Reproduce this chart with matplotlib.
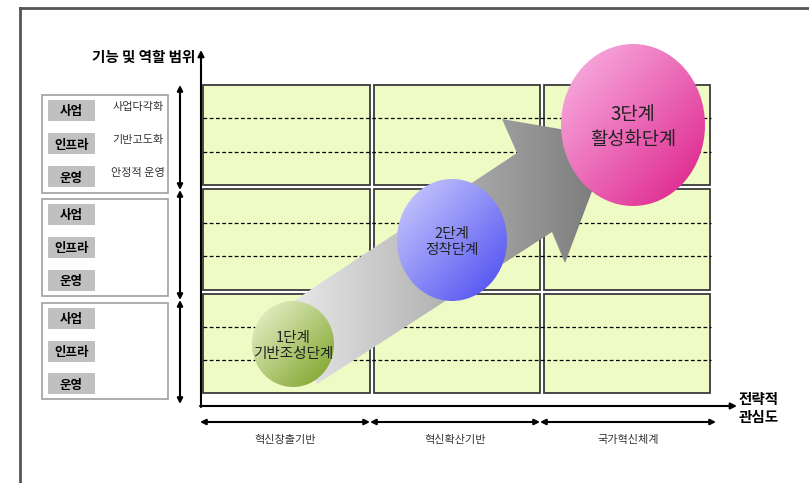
import numpy as np
import matplotlib
matplotlib.use("Agg")
from matplotlib import pyplot as plt
from matplotlib.patches import Rectangle, Ellipse, Polygon
from matplotlib.colors import LinearSegmentedColormap

plt.rcParams['font.family'] = ['Noto Sans CJK KR', 'DejaVu Sans']

# diagram content
y_title = "기능 및 역할 범위"
x_title = "전략적\n관심도"
col_labels = ["혁신창출기반", "혁신확산기반", "국가혁신체계"]
row_tags = ["사업", "인프라", "운영"]
row_notes = ["사업다각화", "기반고도화", "안정적 운영"]
stages = ["1단계\n기반조성단계", "2단계\n정착단계", "3단계\n활성화단계"]

# layout in pixel coordinates (origin top left)
col_x = [(203, 370), (374, 540), (544, 710)]
row_y = [(85, 185), (189, 290), (294, 393)]
box_y = [(95, 193), (199, 296), (303, 399)]
circles = [  # cx, cy, rx, ry, light, dark
    (293, 344, 41, 43, "#eef5d5", "#78a020"),
    (452, 240, 55, 61, "#d0d0ff", "#4848f0"),
    (633, 125, 72, 81, "#fab8e6", "#dc1c88"),
]

fig = plt.figure(figsize=(8.09, 4.83), dpi=100)
ax = fig.add_axes([0, 0, 1, 1])
ax.set_xlim(0, 809)
ax.set_ylim(483, 0)
ax.axis("off")

# outer frame
ax.plot([20, 809], [8, 8], color="#555555", lw=2)
ax.plot([20, 20], [8, 483], color="#555555", lw=2)

# grid cells
for (x0, x1) in col_x:
    for (y0, y1) in row_y:
        ax.add_patch(Rectangle((x0, y0), x1 - x0, y1 - y0, fc="#effbc4",
                               ec="#3a3a3a", lw=1.3, zorder=1))
for (y0, y1) in row_y:
    h = (y1 - y0) / 3
    for k in (1, 2):
        ax.plot([203, 711], [y0 + k * h, y0 + k * h], color="black", lw=0.9,
                ls=(0, (3, 2)), zorder=2)

# axes arrows
ax.annotate("", xy=(201, 50), xytext=(201, 407),
            arrowprops=dict(arrowstyle="-|>", color="black", lw=1.5,
                            mutation_scale=9, shrinkA=0, shrinkB=0))
ax.annotate("", xy=(737, 406), xytext=(200, 406),
            arrowprops=dict(arrowstyle="-|>", color="black", lw=1.5,
                            mutation_scale=9, shrinkA=0, shrinkB=0))
ax.text(195, 57, y_title, ha="right", va="center", fontsize=10.5, weight="bold")
ax.text(759, 408, x_title, ha="center", va="center", fontsize=10.5,
        weight="bold", linespacing=1.2)

# bottom double arrows + labels
for (x0, x1), lab in zip([(200, 370), (370, 540), (540, 716)], col_labels):
    ax.annotate("", xy=(x0, 422), xytext=(x1, 422),
                arrowprops=dict(arrowstyle="<|-|>", color="black", lw=1.5,
                                mutation_scale=8, shrinkA=0, shrinkB=0))
    ax.text((x0 + x1) / 2, 440, lab, ha="center", va="center", fontsize=8,
            color="#333333")

# left boxes
for i, (y0, y1) in enumerate(box_y):
    ax.add_patch(Rectangle((42, y0), 126, y1 - y0, fc="white", ec="#a0a0a0",
                           lw=1.2))
    step = (y1 - y0) / 3
    for j, tag in enumerate(row_tags):
        ty = y0 + 5 + j * (step + 0.5)
        ax.add_patch(Rectangle((48, ty), 47, 21, fc="#c0c0c0", ec="none"))
        ax.text(71.5, ty + 12, tag, ha="center", va="center", fontsize=9,
                weight="bold")
        if i == 0:
            ax.text(138, ty + 7, row_notes[j], ha="center", va="center",
                    fontsize=8, color="#333333")
    ax.annotate("", xy=(180, [85, 190, 300][i]), xytext=(180, [190, 300, 404][i]),
                arrowprops=dict(arrowstyle="<|-|>", color="black", lw=1.5,
                                mutation_scale=8, shrinkA=0, shrinkB=0))

# big gradient arrow
pts = [(280, 310), (517, 153), (502, 119), (612, 138), (565, 263),
       (552, 232), (317, 384)]
arrow = Polygon(pts, closed=True, fc="none", ec="none")
ax.add_patch(arrow)
cm_arrow = LinearSegmentedColormap.from_list("ar", ["#ececec", "#777777"])
g = np.tile(np.linspace(0, 1, 256), (2, 1))
im = ax.imshow(g, cmap=cm_arrow, extent=(280, 612, 384, 119), origin="upper",
               aspect="auto", zorder=3)
im.set_clip_path(arrow)

# stage circles with diagonal gradient
n = 200
xx, yy = np.meshgrid(np.linspace(0, 1, n), np.linspace(0, 1, n))
diag = (xx + yy) / 2
for (cx, cy, rx, ry, c0, c1), lab in zip(circles, stages):
    e = Ellipse((cx, cy), 2 * rx, 2 * ry, fc="none", ec="none", zorder=4)
    ax.add_patch(e)
    cm = LinearSegmentedColormap.from_list("c", [c0, c1])
    im = ax.imshow(diag, cmap=cm, extent=(cx - rx, cx + rx, cy + ry, cy - ry),
                   origin="upper", aspect="auto", zorder=4)
    im.set_clip_path(e)
    fs = 13.5 if cx > 600 else 10.5
    ax.text(cx, cy + 2, lab, ha="center", va="center", fontsize=fs,
            color="#222222", linespacing=1.2, zorder=5)

ax.set_xlim(0, 809)
ax.set_ylim(483, 0)
fig.savefig("out.png", dpi=100)
